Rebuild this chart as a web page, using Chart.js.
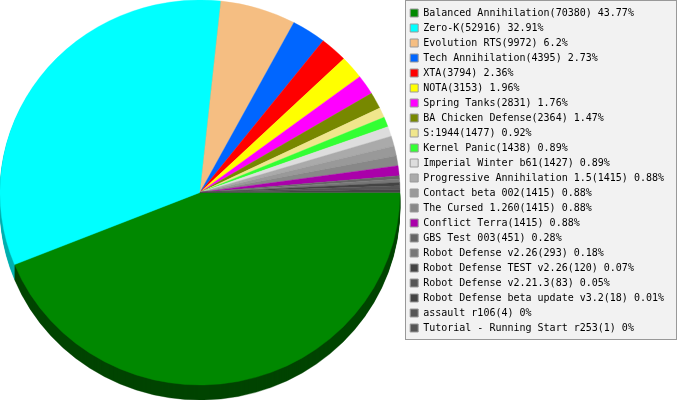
<!DOCTYPE html>
<html>
<head>
<meta charset="utf-8">
<script src="https://cdn.jsdelivr.net/npm/chart.js@4"></script>
<style>html,body{margin:0;padding:0;background:#fff}canvas{display:block}</style>
</head>
<body>
<canvas id="c" width="677" height="400"></canvas>
<script>
const names = ["Balanced Annihilation","Zero-K","Evolution RTS","Tech Annihilation","XTA","NOTA","Spring Tanks","BA Chicken Defense","S:1944","Kernel Panic","Imperial Winter b61","Progressive Annihilation 1.5","Contact beta 002","The Cursed 1.260","Conflict Terra","GBS Test 003","Robot Defense v2.26","Robot Defense TEST v2.26","Robot Defense v2.21.3","Robot Defense beta update v3.2","assault r106","Tutorial - Running Start r253"];
const values = [70380,52916,9972,4395,3794,3153,2831,2364,1477,1438,1427,1415,1415,1415,1415,451,293,120,83,18,4,1];
const percents = ["43.77","32.91","6.2","2.73","2.36","1.96","1.76","1.47","0.92","0.89","0.89","0.88","0.88","0.88","0.88","0.28","0.18","0.07","0.05","0.01","0","0"];
const sliceDegrees = [158,118,22,10,8,7,6,5,3,3,3,3,3,3,3,1,1,1,1,1,0,0];
const colors = ["#008800","#00ffff","#f5be82","#0066ff","#ff0000","#ffff00","#ff00ff","#778800","#f0e68c","#33ff33","#dddddd","#aaaaaa","#999999","#888888","#aa00aa","#666666","#777777","#444444","#555555","#444444","#555555","#555555"];
const sideColors = ["#004400","#00b0b0"];

const PIE = {cx:200, cy:192.5, rx:200, ry:192.5, depth:15};
const PANEL = {x:405.5, y:0.5, w:271, h:339};

const panelPlugin = {
  id:'panel',
  beforeDraw(chart){
    const ctx = chart.ctx;
    ctx.save();
    ctx.fillStyle = '#f2f2f2';
    ctx.strokeStyle = '#999999';
    ctx.lineWidth = 1;
    ctx.fillRect(PANEL.x,PANEL.y,PANEL.w,PANEL.h);
    ctx.strokeRect(PANEL.x,PANEL.y,PANEL.w,PANEL.h);
    ctx.restore();
  }
};
function applyPie(ctx, arc0, dy){
  const r = arc0.outerRadius;
  ctx.setTransform(PIE.rx/r,0,0,PIE.ry/r,PIE.cx-arc0.x*PIE.rx/r,PIE.cy+dy-arc0.y*PIE.ry/r);
}
const piePlugin = {
  id:'pie3d',
  beforeDatasetDraw(chart,args){
    const ctx = chart.ctx, arcs = args.meta.data;
    ctx.save();
    for(let d=PIE.depth;d>=1;d--){
      applyPie(ctx,arcs[0],d);
      arcs.forEach((a,i)=>{
        if(i>1) return;
        const clone = Object.create(a,{options:{value:Object.assign({},a.options,{backgroundColor:sideColors[i],borderColor:sideColors[i]}),writable:true}});
        a.draw.call(clone,ctx);
      });
    }
    applyPie(ctx,arcs[0],0);
  },
  afterDatasetDraw(chart){ chart.ctx.restore(); }
};

new Chart(document.getElementById('c'),{
  type:'pie',
  data:{labels:names,datasets:[{data:sliceDegrees,backgroundColor:colors,borderColor:colors,borderWidth:0.4,clip:false}]},
  options:{
    responsive:false,animation:false,rotation:90,
    layout:{padding:{top:3,right:3,left:0,bottom:0}},
    plugins:{
      tooltip:{enabled:false},
      legend:{
        position:'right',align:'start',
        labels:{
          boxWidth:8,boxHeight:8,padding:5,color:'#000',
          font:{family:'"DejaVu Sans Mono"',size:10},
          generateLabels(){
            return names.map((n,i)=>({
              text:n+'('+values[i]+') '+percents[i]+'%',
              fillStyle:colors[i],strokeStyle:'#999999',lineWidth:1,fontColor:'#000',hidden:false,index:i
            }));
          }
        }
      }
    }
  },
  plugins:[panelPlugin,piePlugin]
});
</script>
</body>
</html>
